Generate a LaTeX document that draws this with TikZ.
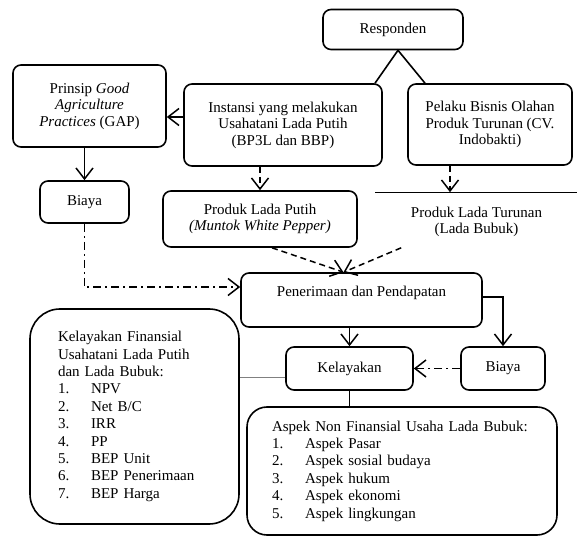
\documentclass[tikz,border=0pt]{standalone}
\usepackage{fontspec}
\setmainfont{Liberation Serif}
\usetikzlibrary{arrows.meta}
\newcommand{\butir}[2]{\makebox[33pt][l]{#1}#2}
\tikzset{
	kotak/.style={draw, line width=1.6pt, rounded corners=8pt, align=center, font=\fontsize{15}{16.5}\selectfont},
	daftar/.style={kotak, align=left, font=\fontsize{15}{17.4}\selectfont},
	panah/.style={line width=1.5pt, -{Straight Barb[length=11pt,width=17pt]}},
	putus/.style={panah, dash pattern=on 6pt off 4pt},
	titik/.style={panah, dash pattern=on 8pt off 4pt on 2pt off 4pt},
}
\begin{document}
\begin{tikzpicture}[x=1pt,y=1pt]
		\useasboundingbox (0,0) rectangle (577,537);
		\node[kotak, minimum width=140pt, minimum height=40pt] (resp) at (393,507.5) {Responden};
		\node[kotak, minimum width=198pt, minimum height=82pt] (inst) at (283,412) {Instansi yang melakukan\\Usahatani Lada Putih\\(BP3L dan BBP)};
		\node[kotak, minimum width=164pt, minimum height=81pt] (pelaku) at (490,412.5) {Pelaku Bisnis Olahan\\Produk Turunan (CV.\\Indobakti)};
		\node[kotak, minimum width=153pt, minimum height=82pt] (gap) at (89.5,431) {Prinsip \textit{Good}\\\textit{Agriculture}\\\textit{Practices} (GAP)};
		\node[kotak, minimum width=89pt, minimum height=42pt] (biaya1) at (84.5,335) {Biaya};
		\node[kotak, minimum width=194pt, minimum height=56pt] (putih) at (260,318) {Produk Lada Putih\\\textit{(Muntok White Pepper)}};
		\node[kotak, draw=none, minimum width=201pt, minimum height=58pt] (turunan) at (476.5,315) {Produk Lada Turunan\\(Lada Bubuk)};
		\draw[line width=1.2pt] (turunan.north west) -- (turunan.north east);
		\node[kotak, minimum width=241pt, minimum height=54pt, inner ysep=0pt, text height=24pt, text depth=30pt] (pener) at (361.5,237) {Penerimaan dan Pendapatan};
		\node[kotak, minimum width=127pt, minimum height=43pt] (kelay) at (349.5,168.5) {Kelayakan};
		\node[kotak, minimum width=84pt, minimum height=43pt] (biaya2) at (503,168.5) {Biaya};
		\node[daftar, rounded corners=30pt, text width=153pt, inner xsep=28pt, minimum height=215pt] (fin) at (134.5,120.5) {Kelayakan Finansial\\Usahatani Lada Putih\\dan Lada Bubuk:\\
			\butir{1.}{NPV}\\\butir{2.}{Net B/C}\\\butir{3.}{IRR}\\\butir{4.}{PP}\\\butir{5.}{BEP Unit}\\\butir{6.}{BEP Penerimaan}\\\butir{7.}{BEP Harga}};
		\node[daftar, rounded corners=20pt, text width=260pt, inner xsep=25pt, minimum height=128pt] (aspek) at (402,66) {Aspek Non Finansial Usaha Lada Bubuk:\\
			\butir{1.}{Aspek Pasar}\\\butir{2.}{Aspek sosial budaya}\\\butir{3.}{Aspek hukum}\\\butir{4.}{Aspek ekonomi}\\\butir{5.}{Aspek lingkungan}};
		% penghubung
		\draw[line width=1.6pt] ([xshift=92pt]inst.north) -- ([xshift=5pt]resp.south) -- ([xshift=-65pt]pelaku.north);
		\draw[panah] ([yshift=8pt]inst.west) -- ([yshift=8pt]inst.west -| gap.east);
		\draw[panah] (biaya1.north |- gap.south) -- (biaya1.north);
		\draw[putus] (putih.north |- inst.south) -- (putih.north);
		\draw[putus] ([xshift=-40pt]pelaku.south) -- ([xshift=-40pt]pelaku.south |- turunan.north);
		\draw[titik] (biaya1.south) |- ([yshift=13pt]pener.west);
		\draw[putus] ([xshift=12pt]putih.south) -- ([xshift=-18pt]pener.north);
		\draw[putus] ([xshift=26pt,yshift=4pt]turunan.south west) -- ([xshift=-18pt]pener.north);
		\draw[panah] (kelay.north |- pener.south) -- (kelay.north);
		\draw[panah] ([yshift=3pt]pener.east) -| (biaya2.north);
		\draw[titik] (biaya2.west) -- (kelay.east);
		\draw[gray, line width=1pt] ([yshift=-9.5pt]kelay.west) -- ([yshift=-9.5pt]kelay.west -| fin.east);
		\draw[line width=1.6pt] (kelay.south) -- (kelay.south |- aspek.north);
	\end{tikzpicture}
\end{document}
